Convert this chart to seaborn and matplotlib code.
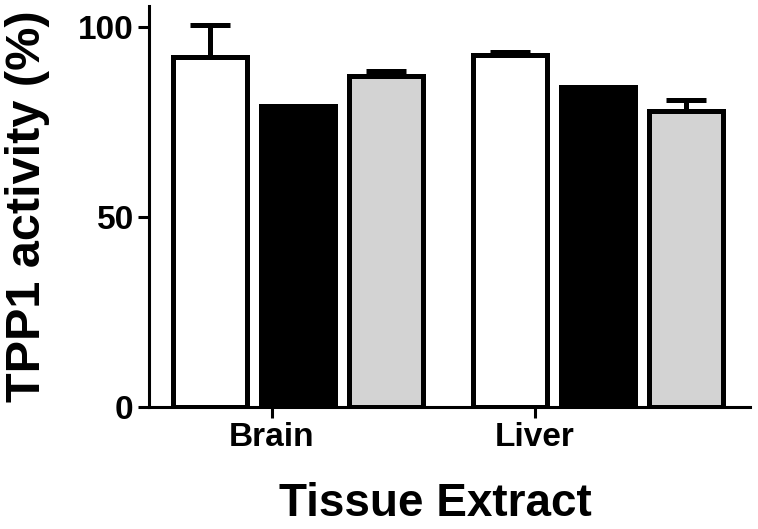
import pandas as pd
import numpy as np
import matplotlib
matplotlib.use('Agg')
import matplotlib.pyplot as plt
import seaborn as sns

# values
tissues = ['Brain', 'Liver']
groups = ['Group 1', 'Group 2', 'Group 3']
brain_vals = [92.0, 79.2, 87.0]
brain_err = [8.5, 0.0, 1.5]
liver_vals = [92.6, 84.3, 77.9]
liver_err = [0.7, 0.0, 2.9]
colours = ['white', 'black', '#d3d3d3']

df = pd.DataFrame({
    'Tissue': ['Brain'] * 3 + ['Liver'] * 3,
    'Group': groups * 2,
    'Activity': brain_vals + liver_vals,
    'Err': brain_err + liver_err,
})

sns.set_style('ticks')
plt.rcParams['font.family'] = ['Liberation Sans', 'DejaVu Sans']
plt.rcParams['font.weight'] = 'bold'
for k in ['text.color', 'axes.labelcolor', 'xtick.color', 'ytick.color', 'axes.edgecolor']:
    plt.rcParams[k] = 'black'

fig = plt.figure(figsize=(7.58, 5.29), dpi=100)
ax = fig.add_axes([149 / 758, 1 - 407 / 529, (750 - 149) / 758, (407 - 6) / 529])

sns.barplot(data=df, x='Tissue', y='Activity', hue='Group', order=tissues,
            hue_order=groups, palette=colours, edgecolor='black', linewidth=3.6,
            width=0.883, gap=0.16, errorbar=None, legend=False, ax=ax, zorder=3)

# one-sided error bars (upwards only)
for p in ax.patches:
    cx = p.get_x() + p.get_width() / 2
    h = p.get_height()
    row = df.iloc[(df['Activity'] - h).abs().argmin()]
    if row['Err'] > 0:
        ax.errorbar(cx, h, yerr=[[0], [row['Err']]], fmt='none', ecolor='black',
                    elinewidth=3.6, capsize=14.5, capthick=3.6, zorder=2, clip_on=False)

ax.set_xlim(-0.497, 1.507)
ax.set_ylim(0, 105.5)
ax.set_yticks([0, 50, 100])
ax.set_yticklabels(['0', '50', '100'])
ax.set_xticks([-0.087, 0.79])
ax.set_xticklabels(tissues)

ax.tick_params(axis='both', labelsize=24, width=2.2, length=8, pad=3, color='black')
for lab in ax.get_xticklabels() + ax.get_yticklabels():
    lab.set_fontweight('bold')

for s in ['top', 'right']:
    ax.spines[s].set_visible(False)
for s in ['left', 'bottom']:
    ax.spines[s].set_linewidth(2.2)
    ax.spines[s].set_color('black')

ax.set_ylabel('TPP1 activity (%)', fontsize=35, fontweight='bold')
ax.yaxis.set_label_coords(-0.165, 0.5)
ax.set_xlabel('Tissue Extract', fontsize=33, fontweight='bold')
ax.xaxis.set_label_coords(0.477, -0.187)

fig.savefig('out.png', dpi=100)
